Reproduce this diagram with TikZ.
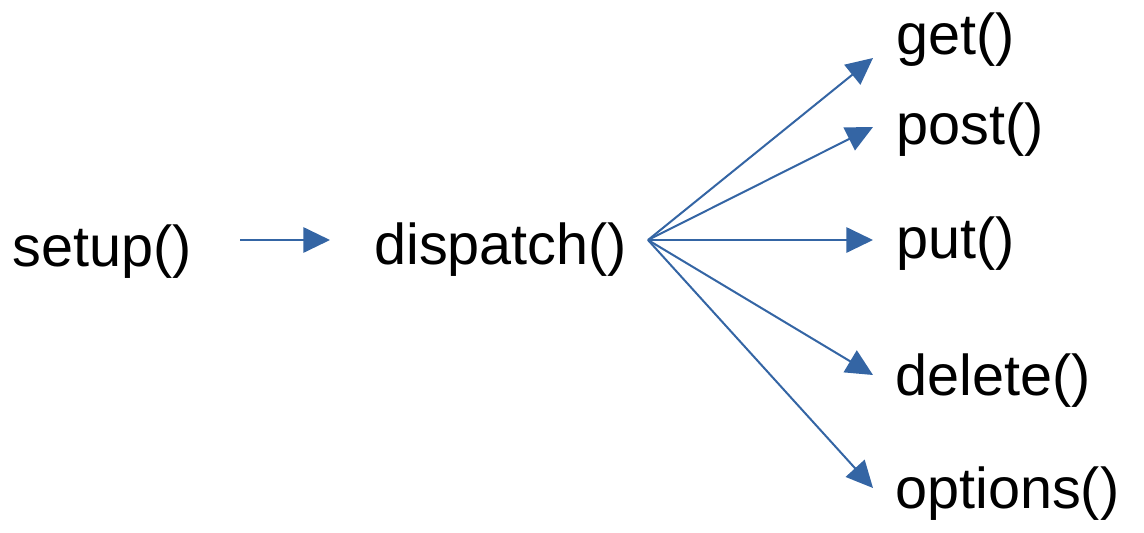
\documentclass[tikz,border=0pt]{standalone}
\usepackage{fontspec}
\setmainfont{Liberation Sans}
\usetikzlibrary{arrows.meta}

\definecolor{arrowblue}{HTML}{3465A4}

\begin{document}
\begin{tikzpicture}[
    x=0.75pt,
    y=-0.75pt,
    func/.style = {
        anchor=base west,
        inner sep=0pt,
        font=\fontsize{43.2}{51}\selectfont
    },
    myarrow/.style={
        draw=arrowblue,
        line width=1.5pt,
        -{Triangle[length=20pt,width=19pt,fill=arrowblue]}
    }
]
  \useasboundingbox (0,0) rectangle (1144,532);

  \node[func] (setup) at (12,266) {setup()};
  \node[func] (dispatch) at (374,264) {dispatch()};
  \node[func] (get) at (896,54) {get()};
  \node[func] (post) at (896,144) {post()};
  \node[func] (put) at (896,258) {put()};
  \node[func] (delete) at (895,395) {delete()};
  \node[func] (options) at (895,508) {options()};

  % arrow ends
  \coordinate (setupout) at (240,240);
  \coordinate (dispatchin) at (330,240);
  \coordinate (fan) at (648,240);
  \coordinate (getin) at (873,58);
  \coordinate (postin) at (873,127);
  \coordinate (putin) at (873,240);
  \coordinate (deletein) at (873,375);
  \coordinate (optionsin) at (873,488);

  \draw[myarrow] (setupout) to (dispatchin);
  \draw[myarrow] (fan) to (getin);
  \draw[myarrow] (fan) to (postin);
  \draw[myarrow] (fan) to (putin);
  \draw[myarrow] (fan) to (deletein);
  \draw[myarrow] (fan) to (optionsin);
\end{tikzpicture}
\end{document}
